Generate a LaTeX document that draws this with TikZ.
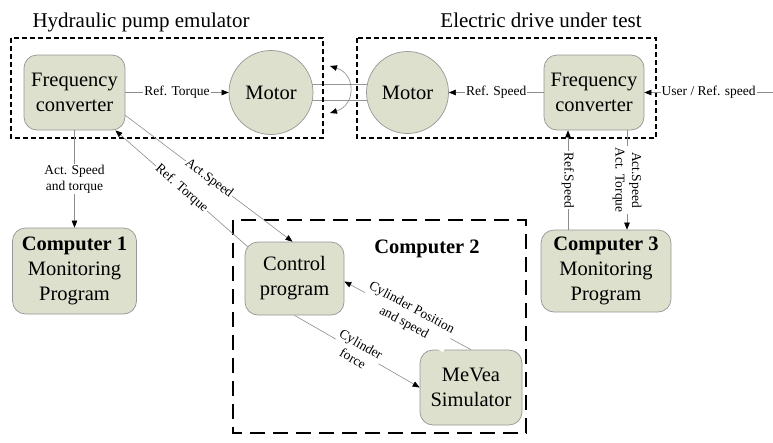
\documentclass[tikz,border=0pt]{standalone}
\usepackage{fontspec}
\setmainfont{Liberation Serif}
\usetikzlibrary{arrows.meta,calc}
\definecolor{boxfill}{RGB}{221,224,204}
\definecolor{boxline}{RGB}{150,150,150}
\definecolor{wirecol}{RGB}{140,140,140}
\begin{document}
\begin{tikzpicture}[x=1pt,y=-1pt,
  bigtext/.style={font=\fontsize{20.5}{25}\selectfont},
  block/.style={bigtext, draw=boxline, fill=boxfill, rounded corners=13pt,
    line width=0.7pt, align=center, inner sep=0pt},
  motor/.style={bigtext, circle, draw=boxline, fill=boxfill, line width=0.7pt, inner sep=0pt},
  wire/.style={draw=wirecol, line width=0.6pt,
    -{Triangle[length=7pt,width=5.5pt,color=black]}},
  lab/.style={fill=white, inner sep=1pt, align=center,
    font=\fontsize{13.5}{16.5}\selectfont},
  group/.style={draw=black, line width=1.4pt, dash pattern=on 5pt off 3pt},
  biggroup/.style={draw=black, line width=2.8pt, dash pattern=on 15pt off 8pt},
  title/.style={font=\fontsize{21}{25}\selectfont, anchor=base}]
\useasboundingbox (0,0) rectangle (773,442);

% shaft joining the two machines
\draw[draw=boxline, fill=white, line width=0.7pt] (271,84) rectangle (407.5,100);

% machines and converters
\node[block, minimum width=101pt, minimum height=75pt] (fc1) at (74.5,92.5) {Frequency\\converter};
\node[motor, minimum size=84pt] (m1) at (271,92.5) {Motor};
\node[motor, minimum size=82pt] (m2) at (407.5,92.5) {Motor};
\node[block, minimum width=100pt, minimum height=75pt] (fc2) at (594,92.5) {Frequency\\converter};

% group frames
\draw[group] (11,38) rectangle (323,138);
\draw[group] (357,38) rectangle (656,138);
\draw[biggroup] (233,220) rectangle (526,433);

\node[title] (t1) at (141,27.5) {Hydraulic pump emulator};
\node[title] (t2) at (541,27.5) {Electric drive under test};

% computers
\node[block, minimum width=124pt, minimum height=86pt] (comp1) at (74.5,271)
  {\textbf{Computer 1}\\Monitoring\\Program};
\node[block, minimum width=99pt, minimum height=73pt] (ctrl) at (294.5,278.5) {Control\\program};
\node[block, minimum width=102pt, minimum height=75pt] (mevea) at (471,387.5) {MeVea\\Simulator};
\node[block, minimum width=130pt, minimum height=82pt] (comp3) at (606,271)
  {\textbf{Computer 3}\\Monitoring\\Program};
\node[bigtext, anchor=base] (c2lab) at (427,253) {\textbf{Computer 2}};

% rotation of the shaft
\coordinate (rtop) at (330,66);
\coordinate (rbot) at (330,113);
\draw[draw=wirecol, line width=0.6pt,
  {Triangle[length=7pt,width=5.5pt,color=black]}-{Triangle[length=7pt,width=5.5pt,color=black]}]
  (rtop) .. controls (356,74) and (356,105) .. (rbot);

% signal connections
\draw[wire] (fc1) -- node[lab] {Ref. Torque} (m1);
\draw[wire] (fc2) -- node[lab] {Ref. Speed} (m2);
\coordinate (user) at (773,92.5);
\draw[wire] (user) -- node[lab] {User / Ref. speed} (fc2);

\draw[wire] (fc1.south) -- node[lab] {Act. Speed\\and torque} (fc1.south |- comp1.north);

\draw[wire] ([xshift=-38pt]comp3.north) -- node[lab, rotate=-90] {Ref.Speed}
  ([xshift=-38pt]comp3.north |- fc2.south);
\draw[wire] ([xshift=33pt]fc2.south) -- node[lab, rotate=-90] {Act.Speed\\Act. Torque}
  ([xshift=33pt]fc2.south |- comp3.north);

\draw[wire] ([yshift=15pt]fc1.south east) -- node[lab, sloped] {Act.Speed} ([xshift=-2pt]ctrl.north);
\draw[wire] ([xshift=3pt,yshift=-5pt]ctrl.north west) -- node[lab, sloped] {Ref. Torque}
  ([xshift=-10pt]fc1.south east);

\draw[wire] (ctrl.south) -- node[lab, sloped] {Cylinder\\force} (mevea.west);
\draw[wire] (mevea.north) -- node[lab, sloped] {Cylinder Position\\and speed} ([yshift=-3pt]ctrl.east);
\end{tikzpicture}
\end{document}
